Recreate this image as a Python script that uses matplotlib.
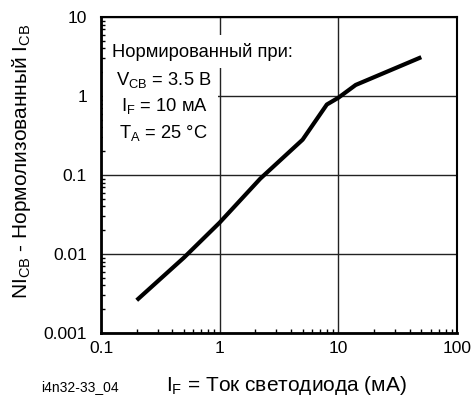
"""
plot.py

NI_CB vs I_F (log-log), normalised at I_F = 10 mA
"""

import matplotlib
matplotlib.use('Agg')
import matplotlib.pyplot as plt
from matplotlib.patches import Rectangle
from matplotlib.ticker import LogLocator, NullFormatter, FixedLocator, FixedFormatter

plt.rcParams['font.family'] = ['Liberation Sans', 'DejaVu Sans']
plt.rcParams['mathtext.fontset'] = 'custom'
plt.rcParams['mathtext.rm'] = 'Liberation Sans'
plt.rcParams['mathtext.it'] = 'Liberation Sans'

# data
i_f = [0.2, 0.5, 1.0, 2.2, 5.0, 8.0, 10.0, 14.0, 50.0]
ni_cb = [0.0026, 0.009, 0.025, 0.09, 0.28, 0.78, 0.95, 1.38, 3.1]

x_ticks = [0.1, 1, 10, 100]
x_labels = ['0.1', '1', '10', '100']
y_ticks = [0.001, 0.01, 0.1, 1, 10]
y_labels = ['0.001', '0.01', '0.1', '1', '10']

W, H = 474, 399
fig = plt.figure(figsize=(W / 100, H / 100), dpi=100)
ax = fig.add_axes([101 / W, 1 - 333 / H, (457 - 101) / W, (333 - 17) / H])

ax.set_xscale('log')
ax.set_yscale('log')
ax.set_xlim(0.1, 100)
ax.set_ylim(0.001, 10)

ax.plot(i_f, ni_cb, color='black', lw=3.0, solid_capstyle='butt', zorder=3)

ax.xaxis.set_major_locator(FixedLocator(x_ticks))
ax.xaxis.set_major_formatter(FixedFormatter(x_labels))
ax.yaxis.set_major_locator(FixedLocator(y_ticks))
ax.yaxis.set_major_formatter(FixedFormatter(y_labels))
ax.xaxis.set_minor_locator(LogLocator(base=10, subs=range(2, 10)))
ax.yaxis.set_minor_locator(LogLocator(base=10, subs=range(2, 10)))
ax.xaxis.set_minor_formatter(NullFormatter())
ax.yaxis.set_minor_formatter(NullFormatter())

ax.tick_params(which='both', direction='in', top=False, right=False,
               labelsize=12.5, colors='black')
ax.tick_params(which='major', length=0, pad=6)
ax.tick_params(which='minor', length=3, width=1)
ax.tick_params(axis='y', which='major', pad=10)

ax.grid(True, which='major', color='#222222', lw=1.0)
ax.set_axisbelow(True)

for side in ['left', 'bottom']:
    ax.spines[side].set_linewidth(2.0)
for side in ['top', 'right']:
    ax.spines[side].set_linewidth(1.5)

ax.set_xlabel(r'I$_{\mathrm{F}}$ = Ток светодиода (мА)', fontsize=15)
ax.xaxis.set_label_coords(0.52, -0.13)
ax.set_ylabel(r'NI$_{\mathrm{CB}}$ - Нормолизованный I$_{\mathrm{CB}}$', fontsize=15)
ax.yaxis.set_label_coords(-0.19, 0.545)

# white boxes behind the note, hiding the grid
ax.add_patch(Rectangle((108 / W, 1 - 68 / H), 190 / W, 33 / H, transform=fig.transFigure,
                       facecolor='white', edgecolor='none', zorder=1, clip_on=False))
ax.add_patch(Rectangle((103 / W, 1 - 147 / H), 115 / W, 79 / H, transform=fig.transFigure,
                       facecolor='white', edgecolor='none', zorder=1, clip_on=False))

note = ['Нормированный при:',
        r'V$_{\mathrm{CB}}$ = 3.5 В',
        r'I$_{\mathrm{F}}$ = 10 мА',
        r'T$_{\mathrm{A}}$ = 25 °C']
note_x = [202, 164, 164, 163]
note_y = [52, 80, 106, 133]
for s, nx, ny in zip(note, note_x, note_y):
    fig.text(nx / W, 1 - ny / H, s, ha='center', va='center', fontsize=13.2)

fig.text(80 / W, 1 - 387 / H, 'i4n32-33_04', ha='center', va='center', fontsize=10)

fig.savefig('out.png', dpi=100)
